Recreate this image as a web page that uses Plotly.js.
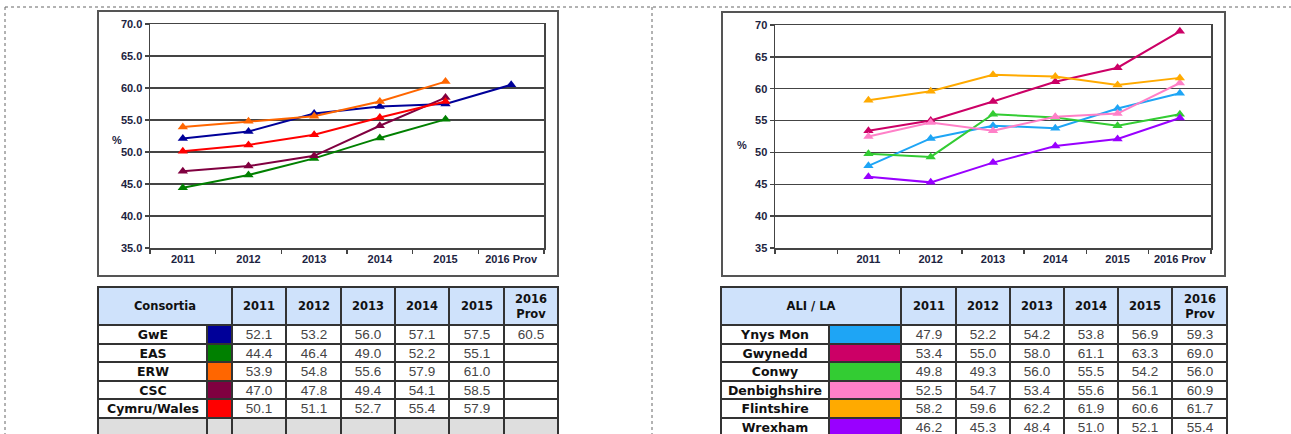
<!DOCTYPE html>
<html>
<head>
<meta charset="utf-8">
<script src="https://cdn.plot.ly/plotly-3.0.1.min.js"></script>
<style>
  html, body { margin: 0; padding: 0; overflow: hidden; background: #fff; }
  #chart { width: 1291px; height: 440px; }
</style>
</head>
<body>
<div id="chart"></div>
<script>
// Data
const years = ['2011', '2012', '2013', '2014', '2015', '2016 Prov'];
const yearHeads = ['2011', '2012', '2013', '2014', '2015', '2016<br>Prov'];

const consortia = ['GwE', 'EAS', 'ERW', 'CSC', 'Cymru/Wales'];
const gwe = [52.1, 53.2, 56.0, 57.1, 57.5, 60.5];
const eas = [44.4, 46.4, 49.0, 52.2, 55.1, null];
const erw = [53.9, 54.8, 55.6, 57.9, 61.0, null];
const csc = [47.0, 47.8, 49.4, 54.1, 58.5, null];
const wales = [50.1, 51.1, 52.7, 55.4, 57.9, null];

const authorities = ['Ynys Mon', 'Gwynedd', 'Conwy', 'Denbighshire', 'Flintshire', 'Wrexham'];
const ynysMon = [47.9, 52.2, 54.2, 53.8, 56.9, 59.3];
const gwynedd = [53.4, 55.0, 58.0, 61.1, 63.3, 69.0];
const conwy = [49.8, 49.3, 56.0, 55.5, 54.2, 56.0];
const denbighshire = [52.5, 54.7, 53.4, 55.6, 56.1, 60.9];
const flintshire = [58.2, 59.6, 62.2, 61.9, 60.6, 61.7];
const wrexham = [46.2, 45.3, 48.4, 51.0, 52.1, 55.4];

const leftSeries = [gwe, eas, erw, csc, wales];
const leftColors = ['#000099', '#008000', '#ff6600', '#800040', '#ff0000'];
const rightSeries = [ynysMon, gwynedd, conwy, denbighshire, flintshire, wrexham];
const rightColors = ['#1ea5f5', '#cc0066', '#33cc33', '#ff80c8', '#ffaa00', '#9900ff'];

// page geometry in px
const W = 1291, H = 440;
const px = (x) => x / W;
const py = (y) => 1 - y / H;

// table styling (px)
const HEAD_H = 38, ROW_H = 18.5;
const leftColW = [109, 25, 54, 55, 54, 54, 55, 54];
const rightColW = [108, 72, 55, 54, 54, 54, 54, 55];
const WHITE = '#ffffff', HEAD_BLUE = '#cfe2fb', DOTS = '#dedede';

const tickFont = { family: 'Liberation Sans, Arial, sans-serif', size: 11, color: '#1c2340', weight: 'bold' };

function lineTrace(vals, name, color, xa, ya) {
  return {
    type: 'scatter', mode: 'lines+markers',
    x: years, y: vals, name: name,
    xaxis: xa, yaxis: ya,
    line: { color: color, width: 2 },
    marker: { symbol: 'triangle-up', size: 9, color: color },
    connectgaps: false
  };
}

const traces = [];
leftSeries.forEach((s, i) => traces.push(lineTrace(s, consortia[i], leftColors[i], 'x', 'y')));
rightSeries.forEach((s, i) => traces.push(lineTrace(s, authorities[i], rightColors[i], 'x2', 'y2')));

const fmt = (v) => (v === null ? '' : v.toFixed(1));
const nameTxt = (n) => '<span style="font-family:DejaVu Sans;font-size:12.5px;fill:#111"><b>' + n + '</b></span>';
const headTxt = (h) => '<b>' + h + '</b>';

function tableTraces(label, names, series, swatches, colW, xa, ya, extraRow) {
  const edges = [0];
  colW.forEach((w) => edges.push(edges[edges.length - 1] + w));
  const headEdges = [edges[0]].concat(edges.slice(2));
  const palette = [WHITE, HEAD_BLUE, DOTS].concat(swatches);
  const scale = palette.map((c, i) => [i / (palette.length - 1), c]);

  const z = [], txt = [], yEdges = [HEAD_H];
  names.forEach((n, r) => {
    z.push([0, 3 + r].concat(years.map(() => 0)));
    txt.push([nameTxt(n), ''].concat(years.map((y, j) => fmt(series[r][j]))));
    yEdges.push(HEAD_H + (r + 1) * ROW_H);
  });
  if (extraRow) {
    z.push(colW.map(() => 2));
    txt.push(colW.map(() => ''));
    yEdges.push(HEAD_H + (names.length + 1) * ROW_H);
  }
  const common = {
    type: 'heatmap', xaxis: xa, yaxis: ya,
    colorscale: scale, zmin: 0, zmax: palette.length - 1,
    showscale: false, xgap: 2, ygap: 2,
    texttemplate: '%{text}', hoverinfo: 'skip'
  };
  const head = Object.assign({}, common, {
    x: headEdges, y: [0, HEAD_H],
    z: [headEdges.slice(1).map(() => 1)],
    text: [[headTxt(label)].concat(yearHeads.map(headTxt))],
    textfont: { family: 'DejaVu Sans, sans-serif', size: 11.5, color: '#111' }
  });
  const body = Object.assign({}, common, {
    x: edges, y: yEdges, z: z, text: txt,
    textfont: { family: 'Liberation Sans, Arial, sans-serif', size: 13.5, color: '#444' }
  });
  return [head, body];
}

traces.push(...tableTraces('Consortia', consortia, leftSeries, leftColors, leftColW, 'x3', 'y3', true));
traces.push(...tableTraces('ALI / LA', authorities, rightSeries, rightColors, rightColW, 'x4', 'y4', false));

const gridCol = '#444';
const yAxisBase = {
  range: [35, 70], dtick: 5, tick0: 35,
  showgrid: true, gridcolor: gridCol, gridwidth: 1.5,
  showline: true, linecolor: gridCol, linewidth: 1.5, mirror: true,
  ticks: 'outside', ticklen: 4, tickcolor: gridCol, tickwidth: 1.5,
  tickfont: tickFont, zeroline: false, fixedrange: true
};
const xAxisBase = {
  type: 'category',
  showgrid: false, showline: true, linecolor: gridCol, linewidth: 1.5, mirror: true,
  ticks: 'outside', ticklen: 4, tickcolor: gridCol, tickwidth: 1.5, tickson: 'boundaries',
  tickfont: tickFont, tickangle: 0, fixedrange: true
};
const tableAxis = {
  showgrid: false, zeroline: false, showline: false, showticklabels: false, ticks: '', fixedrange: true
};
const sum = (a) => a.reduce((s, v) => s + v, 0);

const shapes = [
  // dotted page frame
  { type: 'line', xref: 'paper', yref: 'paper', x0: px(5), x1: 1, y0: py(7), y1: py(7), line: { color: '#666', width: 1, dash: 'dot' } },
  { type: 'line', xref: 'paper', yref: 'paper', x0: px(5), x1: px(5), y0: py(7), y1: 0, line: { color: '#666', width: 1, dash: 'dot' } },
  { type: 'line', xref: 'paper', yref: 'paper', x0: px(652), x1: px(652), y0: py(7), y1: 0, line: { color: '#666', width: 1, dash: 'dot' } },
  // chart frames
  { type: 'rect', xref: 'paper', yref: 'paper', x0: px(98), x1: px(558), y0: py(276), y1: py(11), line: { color: '#555', width: 2 } },
  { type: 'rect', xref: 'paper', yref: 'paper', x0: px(722), x1: px(1225), y0: py(276), y1: py(12), line: { color: '#555', width: 2 } },
  // table rule colour, showing through the cell gaps
  { type: 'rect', xref: 'x3 domain', yref: 'y3 domain', x0: 0, x1: 1, y0: 0, y1: 1, layer: 'below', fillcolor: '#333', line: { width: 0 } },
  { type: 'rect', xref: 'x4 domain', yref: 'y4 domain', x0: 0, x1: 1, y0: 0, y1: 1, layer: 'below', fillcolor: '#333', line: { width: 0 } }
];

const layout = {
  width: W, height: H,
  margin: { l: 0, r: 0, t: 0, b: 0 },
  paper_bgcolor: '#ffffff', plot_bgcolor: '#ffffff',
  showlegend: false,
  hovermode: false,
  xaxis: Object.assign({}, xAxisBase, {
    domain: [px(150), px(544)], anchor: 'y',
    categoryorder: 'array', categoryarray: years, range: [-0.5, 5.5]
  }),
  yaxis: Object.assign({}, yAxisBase, {
    domain: [py(248), py(24)], anchor: 'x', tickformat: '.1f'
  }),
  xaxis2: Object.assign({}, xAxisBase, {
    domain: [px(775), px(1211)], anchor: 'y2',
    categoryorder: 'array', categoryarray: [' '].concat(years), range: [-0.5, 6.5]
  }),
  yaxis2: Object.assign({}, yAxisBase, {
    domain: [py(248), py(25)], anchor: 'x2', tickformat: 'd'
  }),
  xaxis3: Object.assign({}, tableAxis, { domain: [px(97), px(97 + sum(leftColW) + 2)], range: [-1, sum(leftColW) + 1], anchor: 'y3' }),
  yaxis3: Object.assign({}, tableAxis, { domain: [0, py(286)], range: [H - 287, -1], anchor: 'x3' }),
  xaxis4: Object.assign({}, tableAxis, { domain: [px(720), px(720 + sum(rightColW) + 2)], range: [-1, sum(rightColW) + 1], anchor: 'y4' }),
  yaxis4: Object.assign({}, tableAxis, { domain: [0, py(286)], range: [H - 287, -1], anchor: 'x4' }),
  annotations: [
    { text: '%', xref: 'paper', yref: 'paper', x: px(110), y: py(132), showarrow: false, font: tickFont },
    { text: '%', xref: 'paper', yref: 'paper', x: px(742), y: py(137), showarrow: false, font: tickFont }
  ],
  shapes: shapes
};

Plotly.newPlot('chart', traces, layout, { staticPlot: true, displayModeBar: false });
</script>
</body>
</html>
